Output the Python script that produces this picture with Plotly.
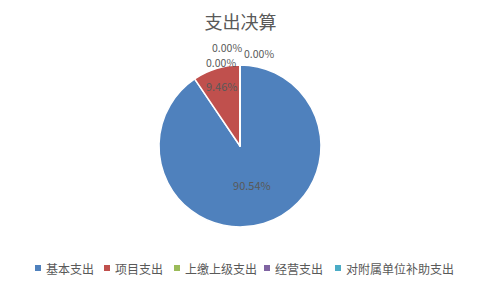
import plotly.graph_objects as go

categories = ["基本支出", "项目支出", "上缴上级支出", "经营支出", "对附属单位补助支出"]
values = [90.54, 9.46, 0, 0, 0]
colors = ["#4F81BD", "#C0504D", "#9BBB59", "#8064A2", "#4BACC6"]
zero_labels = ["0.00%", "0.00%", "0.00%"]

font_family = "Noto Sans CJK SC, Microsoft YaHei, sans-serif"
gray = "#595959"

fig = go.Figure(go.Pie(
    labels=categories,
    values=values,
    sort=False,
    direction="clockwise",
    rotation=0,
    marker=dict(colors=colors, line=dict(color="white", width=1.5)),
    texttemplate="%{percent:.2%}",
    textposition="inside",
    insidetextorientation="horizontal",
    textfont=dict(family=font_family, size=11, color=gray),
    hoverinfo="label+percent",
    showlegend=False,
    domain=dict(x=[0, 1], y=[0, 1]),
))

# labels for the zero-value slices (plotly does not draw zero slices)
annotations = [
    dict(x=0.473, y=1.105, text=zero_labels[0]),
    dict(x=0.460, y=1.018, text=zero_labels[1]),
    dict(x=0.540, y=1.068, text=zero_labels[2]),
]
for a in annotations:
    a.update(xref="paper", yref="paper", showarrow=False,
             xanchor="center", yanchor="middle", borderpad=0,
             font=dict(family=font_family, size=10.5, color=gray))

# legend row (custom, to match the compact single-row legend)
legend_marker_px = [38, 107, 177, 267, 338]
plot_w = 480.0
legend_y = (227 - 268) / 162.0
shapes = []
for name, col, mx in zip(categories, colors, legend_marker_px):
    xc = mx / plot_w
    shapes.append(dict(type="rect", xref="paper", yref="paper",
                       x0=xc - 3 / plot_w, x1=xc + 3 / plot_w,
                       y0=legend_y - 3 / 162.0, y1=legend_y + 3 / 162.0,
                       fillcolor=col, line=dict(width=0)))
    annotations.append(dict(x=(mx + 6) / plot_w, y=legend_y, xref="paper", yref="paper",
                            xanchor="left", yanchor="middle", showarrow=False,
                            text=name, font=dict(family=font_family, size=12, color=gray)))

fig.update_layout(
    width=481, height=289,
    margin=dict(l=0, r=1, t=65, b=62),
    paper_bgcolor="white",
    plot_bgcolor="white",
    title=dict(text="支出决算", x=0.5, xanchor="center", y=0.922, yanchor="middle",
               font=dict(family=font_family, size=18, color=gray)),
    annotations=annotations,
    shapes=shapes,
    showlegend=False,
)

fig.write_html("out.html")
